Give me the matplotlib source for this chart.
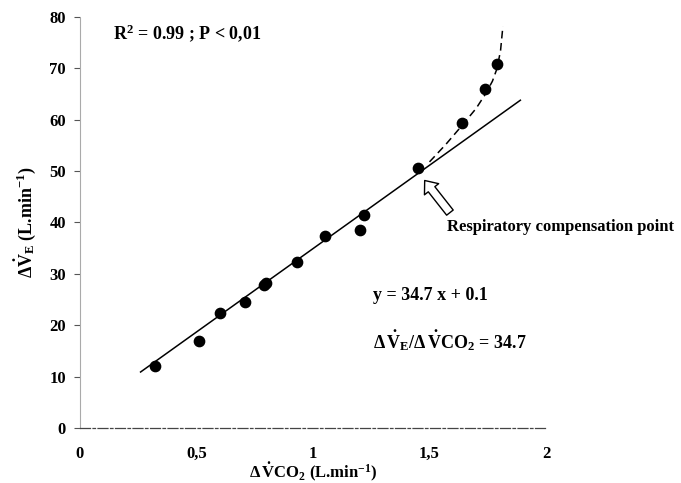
import numpy as np
import matplotlib
matplotlib.use("Agg")
import matplotlib.pyplot as plt

plt.rcParams['font.family'] = ['Liberation Serif', 'DejaVu Serif']
plt.rcParams['font.weight'] = 'bold'
plt.rcParams['axes.labelweight'] = 'bold'
plt.rcParams['mathtext.fontset'] = 'custom'
plt.rcParams['mathtext.rm'] = 'Liberation Serif:bold'
plt.rcParams['mathtext.it'] = 'Liberation Serif:bold'
plt.rcParams['mathtext.bf'] = 'Liberation Serif:bold'

# measured points (delta VCO2, delta VE)
vco2 = [0.32, 0.51, 0.60, 0.71, 0.79, 0.80, 0.93, 1.05, 1.20, 1.22, 1.45, 1.64, 1.74, 1.79]
ve = [12.1, 16.9, 22.4, 24.5, 27.8, 28.2, 32.3, 37.3, 38.5, 41.4, 50.6, 59.3, 65.9, 70.8]

# regression line ends
fit_x = [0.26, 1.89]
fit_y = [10.9, 63.8]

# dashed curve after compensation point
curve_x = [1.50, 1.57, 1.64, 1.70, 1.74, 1.77, 1.79, 1.805, 1.815]
curve_y = [51.8, 55.2, 58.9, 62.2, 65.0, 67.5, 70.0, 73.5, 78.2]

xticks = [0, 0.5, 1, 1.5, 2]
xtick_labels = ['0', '0,5', '1', '1,5', '2']
yticks = [0, 10, 20, 30, 40, 50, 60, 70, 80]

fig = plt.figure(figsize=(6.81, 4.83), dpi=100)
ax = fig.add_axes([80/681, 1 - 428/483, 466/681, 411/483])

ax.plot(fit_x, fit_y, color='black', lw=1.1)
ax.plot(curve_x, curve_y, color='black', lw=1.1, ls=(0, (5, 3)))
ax.scatter(vco2, ve, s=55, color='black', zorder=3)

ax.set_xlim(0, 2)
ax.set_ylim(0, 80)
ax.set_xticks(xticks)
ax.set_xticklabels(xtick_labels)
ax.set_yticks(yticks)
ax.tick_params(axis='x', length=0, pad=13, labelsize=12)
ax.tick_params(axis='y', length=4, direction='out', pad=6, labelsize=12, color='#555555')

for s in ['top', 'right']:
    ax.spines[s].set_visible(False)
ax.spines['left'].set_color('#aaaaaa')
ax.spines['left'].set_linestyle((0, (1, 1)))
ax.spines['left'].set_linewidth(0.8)
ax.spines['bottom'].set_color('#444444')
ax.spines['bottom'].set_linestyle((0, (8, 2, 2, 2)))
ax.spines['bottom'].set_linewidth(0.9)

ax.set_xlabel(r'$\Delta\,\dot{\mathrm{V}}\mathrm{CO_2}$ (L.min$^{-1}$)', fontsize=12, labelpad=-1)
ax.set_ylabel(r'$\Delta\dot{\mathrm{V}}_\mathrm{E}$ (L.min$^{-1}$)', fontsize=13, labelpad=8)

ax.text(0.14, 76.8, r'R$^2$ = 0.99 ; P < 0,01', fontsize=13, va='center')
ax.text(1.257, 25.8, 'y = 34.7 x + 0.1', fontsize=13, va='center')
ax.text(1.257, 17.0, r'$\Delta\,\dot{\mathrm{V}}_\mathrm{E}/\Delta\,\dot{\mathrm{V}}\mathrm{CO_2}$ = 34.7',
        fontsize=13, va='center')

ax.annotate('', xy=(1.472, 48.6), xytext=(1.595, 41.5),
            arrowprops=dict(arrowstyle='simple,head_length=0.8,head_width=1.3,tail_width=0.6',
                            facecolor='white', edgecolor='black', lw=1.0))
ax.text(1.575, 39.2, 'Respiratory compensation point', fontsize=12, va='center',
        clip_on=False)

fig.savefig('out.png', dpi=100)
